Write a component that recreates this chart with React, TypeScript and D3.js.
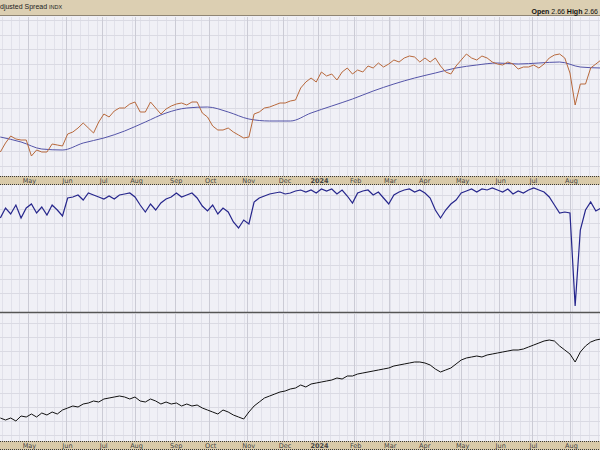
import React from "react";
import * as d3 from "d3";

// ---- data ----
const SAMPLE_START_DAY = -16; // trading days relative to 1 May 2023
const SAMPLE_STEP = 3;
const MA_STEP = 12;

const monthLabels = ["May", "Jun", "Jul", "Aug", "Sep", "Oct", "Nov", "Dec", "2024", "Feb", "Mar", "Apr", "May", "Jun", "Jul", "Aug"];
const monthStartDay = [0, 22, 43, 62, 85, 105, 127, 148, 168, 189, 209, 229, 251, 273, 292, 314];

const spreadValues = [
  24, 33, 40, 37, 36, 36, 20, 26, 24, 24, 32, 31, 30, 42, 44, 48, 53, 48, 43, 54,
  62, 59, 65, 68, 68, 72, 74, 64, 64, 74, 68, 62, 67, 70, 72, 73, 71, 74, 74, 63,
  59, 50, 46, 46, 48, 44, 41, 38, 39, 62, 64, 68, 69, 71, 73, 73, 75, 76, 88, 94,
  98, 94, 104, 100, 102, 96, 104, 108, 102, 106, 104, 110, 108, 113, 109, 112, 116, 114, 118, 120,
  119, 114, 118, 114, 118, 110, 104, 102, 110, 116, 122, 118, 116, 120, 118, 114, 112, 111, 114, 112,
  107, 109, 109, 111, 108, 112, 118, 121, 122, 118, 103, 71, 92, 92, 108, 112, 116,
];

const spreadMA = [
  39, 34, 27, 26, 33, 38, 45, 54, 63, 68, 69, 64, 57, 55, 55, 63, 70, 77, 85, 92,
  98, 103, 108, 111, 113, 112, 113, 114, 109, 108,
];

const breadthValues = [
  94, 104, 98, 107, 94, 104, 108, 99, 105, 97, 107, 102, 96, 114, 115, 117, 112, 119, 117, 115,
  113, 116, 113, 117, 118, 119, 115, 107, 100, 108, 102, 109, 113, 115, 119, 115, 117, 119, 114, 106,
  101, 107, 98, 104, 100, 90, 84, 92, 88, 110, 114, 116, 118, 119, 120, 118, 119, 121, 122, 120,
  122, 119, 123, 121, 123, 118, 122, 116, 109, 119, 121, 122, 117, 120, 114, 108, 117, 120, 122, 123,
  120, 122, 119, 114, 102, 94, 102, 108, 112, 119, 121, 123, 120, 123, 122, 124, 122, 120, 123, 118,
  121, 119, 122, 124, 122, 120, 115, 107, 99, 100, 99, 6, 82, 102, 110, 101, 104,
];

const indexValues = [
  23, 21, 23, 20, 25, 24, 27, 24, 28, 26, 29, 27, 31, 33, 35, 34, 37, 38, 40, 39,
  42, 43, 44, 45, 44, 42, 44, 40, 39, 42, 40, 37, 39, 37, 38, 35, 37, 35, 36, 33,
  31, 29, 27, 31, 29, 26, 24, 22, 29, 35, 39, 43, 45, 47, 49, 50, 52, 53, 56, 54,
  57, 58, 59, 60, 61, 63, 62, 65, 65, 67, 68, 69, 70, 71, 72, 73, 75, 76, 77, 78,
  79, 79, 78, 76, 72, 69, 71, 73, 77, 81, 83, 84, 85, 84, 86, 87, 88, 89, 90, 91,
  91, 92, 94, 96, 98, 100, 101, 100, 95, 91, 87, 79, 89, 95, 99, 101, 102,
];

// ---- layout ----
const W = 600;
const H = 450;
const P1 = { top: 16, bottom: 176 };
const AX1 = { top: 176, bottom: 185 };
const P2 = { top: 185, bottom: 312 };
const P3 = { top: 313, bottom: 441 };
const AX2 = { top: 441, bottom: 450 };

const x = d3.scaleLinear().domain([-16.2, 331.4]).range([0, W]);
const y1 = d3.scaleLinear().domain([0, 160]).range([P1.bottom, P1.top]);
const y2 = d3.scaleLinear().domain([0, 127]).range([P2.bottom, P2.top]);
const y3 = d3.scaleLinear().domain([0, 128]).range([P3.bottom, P3.top]);

const weekDays = d3.range(-15, 335, 5);

const FONT = "'DejaVu Sans', Verdana, sans-serif";
const HFONT = "'Liberation Sans', Arial, sans-serif";

function mkLine(ys: d3.ScaleLinear<number, number>, step: number, curve = d3.curveLinear) {
  return d3
    .line<number>()
    .x((_, i) => x(SAMPLE_START_DAY + i * step))
    .y((d) => ys(d))
    .curve(curve);
}

function Grid({ top, bottom, ys, gridVals }: { top: number; bottom: number; ys: d3.ScaleLinear<number, number>; gridVals: number[] }) {
  return (
    <g>
      <rect x={0} y={top} width={W} height={bottom - top} fill="#f0f0f6" />
      {weekDays.map((d) => (
        <line key={"w" + d} x1={Math.round(x(d)) + 0.5} x2={Math.round(x(d)) + 0.5} y1={top} y2={bottom} stroke="#e1e1ea" strokeWidth={1} />
      ))}
      {gridVals.map((v) => (
        <line key={"h" + v} x1={0} x2={W} y1={Math.round(ys(v)) + 0.5} y2={Math.round(ys(v)) + 0.5} stroke="#dadae3" strokeWidth={1} />
      ))}
      {monthStartDay.map((d) => (
        <line key={"m" + d} x1={Math.round(x(d)) + 0.5} x2={Math.round(x(d)) + 0.5} y1={top} y2={bottom} stroke="#cbcbd5" strokeWidth={1} />
      ))}
    </g>
  );
}

function DateAxis({ top, bottom }: { top: number; bottom: number }) {
  return (
    <g>
      <rect x={0} y={top} width={W} height={bottom - top} fill="#d9caa9" />
      <line x1={0} x2={W} y1={top + 0.5} y2={top + 0.5} stroke="#3a3a3a" strokeDasharray="1,1" />
      <line x1={0} x2={W} y1={bottom - 0.5} y2={bottom - 0.5} stroke="#3a3a3a" strokeDasharray="1,1" />
      {monthLabels.map((m, i) => (
        <text
          key={i}
          x={x(monthStartDay[i]) + 1.5}
          y={(top + bottom) / 2 + 2.4}
          textAnchor="middle"
          fontFamily={FONT}
          fontSize={6.5}
          fontWeight={m === "2024" ? "bold" : "normal"}
          fill="#444"
        >
          {m}
        </text>
      ))}
    </g>
  );
}

export default function App() {
  const spreadPath = mkLine(y1, SAMPLE_STEP)(spreadValues) || "";
  const maPath = mkLine(y1, MA_STEP, d3.curveMonotoneX)(spreadMA) || "";
  const breadthPath = mkLine(y2, SAMPLE_STEP)(breadthValues) || "";
  const indexPath = mkLine(y3, SAMPLE_STEP)(indexValues) || "";

  return (
    <svg width={W} height={H} style={{ position: "absolute", left: 0, top: 0, display: "block" }}>
      <defs>
        <clipPath id="c1"><rect x={0} y={P1.top} width={W} height={P1.bottom - P1.top} /></clipPath>
        <clipPath id="c2"><rect x={0} y={P2.top} width={W} height={P2.bottom - P2.top} /></clipPath>
        <clipPath id="c3"><rect x={0} y={P3.top} width={W} height={P3.bottom - P3.top} /></clipPath>
      </defs>
      <rect x={0} y={0} width={W} height={H} fill="#f0f0f6" />

      {/* header */}
      <rect x={0} y={0} width={W} height={15} fill="#dccfb2" />
      <line x1={0} x2={W} y1={15.5} y2={15.5} stroke="#8f8574" />
      <text x={0} y={8.5} fontFamily={HFONT} fontSize={7} fill="#222">
        djusted Spread <tspan fontSize={5.5}>INDX</tspan>
      </text>
      <text x={598} y={14} textAnchor="end" fontFamily={HFONT} fontSize={7} fill="#111">
        <tspan fontWeight="bold">Open</tspan> 2.66 <tspan fontWeight="bold">High</tspan> 2.66
      </text>

      {/* panel 1 */}
      <Grid top={P1.top + 1} bottom={P1.bottom} ys={y1} gridVals={d3.range(10.5, 160, 14.5)} />
      <g clipPath="url(#c1)">
        <path d={maPath} fill="none" stroke="#5454a8" strokeWidth={1} />
        <path d={spreadPath} fill="none" stroke="#b8693c" strokeWidth={1} />
      </g>
      <DateAxis top={AX1.top} bottom={AX1.bottom} />

      {/* panel 2 */}
      <Grid top={P2.top} bottom={P2.bottom} ys={y2} gridVals={d3.range(19, 127, 14)} />
      <g clipPath="url(#c2)">
        <path d={breadthPath} fill="none" stroke="#26268c" strokeWidth={1.2} />
      </g>
      <line x1={0} x2={W} y1={P2.bottom + 0.5} y2={P2.bottom + 0.5} stroke="#555" strokeWidth={1.5} />

      {/* panel 3 */}
      <Grid top={P3.top + 1} bottom={P3.bottom} ys={y3} gridVals={d3.range(6, 128, 14)} />
      <g clipPath="url(#c3)">
        <path d={indexPath} fill="none" stroke="#111" strokeWidth={1} />
      </g>
      <DateAxis top={AX2.top} bottom={AX2.bottom} />
    </svg>
  );
}
